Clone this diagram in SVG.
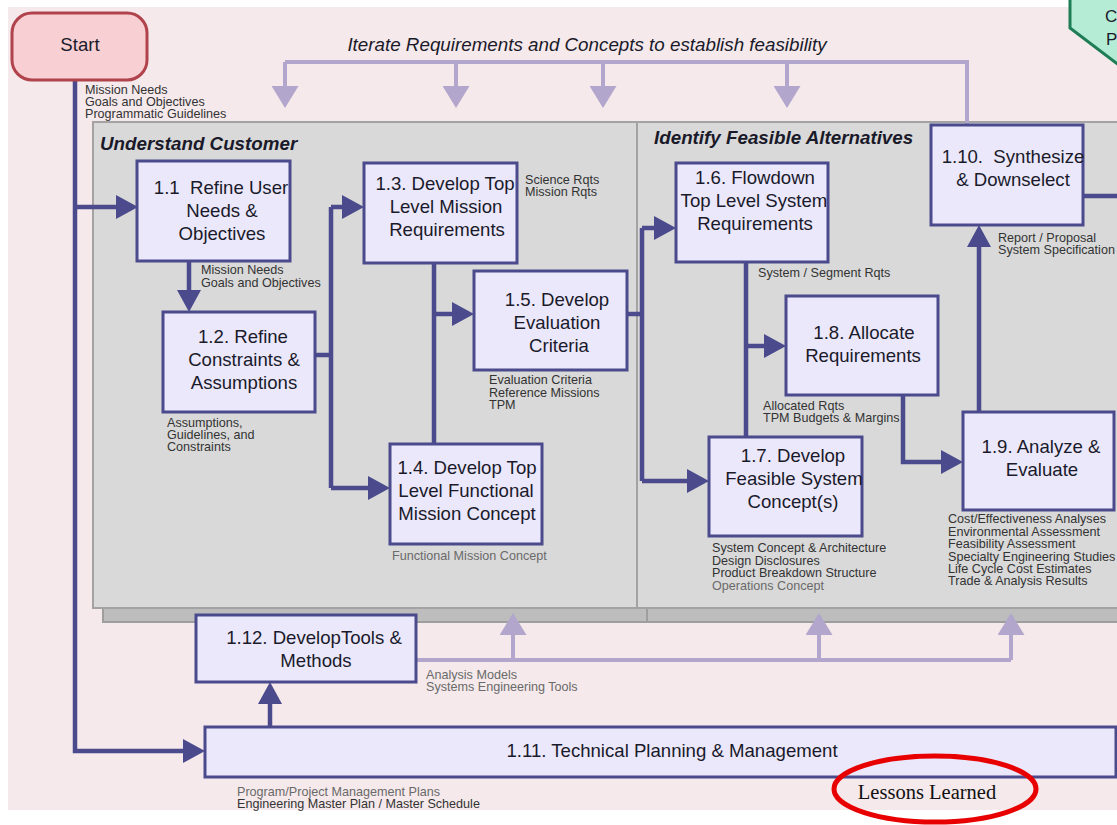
<svg xmlns="http://www.w3.org/2000/svg" width="1117" height="825" viewBox="0 0 1117 825">
<defs>
<style>
text{font-family:"Liberation Sans",Arial,sans-serif;fill:#1a1a2a}
.bx{fill:#ebe8fb;stroke:#4a4a8c;stroke-width:3}
.bt{font-size:18.6px;text-anchor:middle}
.lb{font-size:12.6px;fill:#333}
.lg{font-size:12.6px;fill:#6a6a6a}
.dk{fill:none;stroke:#4a4a8c;stroke-width:4.5}
.dka{fill:none;stroke:#4a4a8c;stroke-width:4.5;marker-end:url(#ad)}
.lt{fill:none;stroke:#b3a6cc;stroke-width:4}
.lta{fill:none;stroke:#b3a6cc;stroke-width:4;marker-end:url(#al)}
.ttl{font-size:18.8px;font-weight:bold;font-style:italic}
.pan{fill:#d9d9d9;stroke:#a3a3a3;stroke-width:2}
.sh{fill:#bdbdbd;stroke:#9e9e9e;stroke-width:2}
</style>
<marker id="ad" viewBox="0 0 22 24" markerWidth="22" markerHeight="24" refX="10" refY="12" orient="auto" markerUnits="userSpaceOnUse"><path d="M0,0 L22,12 L0,24 z" fill="#4a4a8c"/></marker>
<marker id="al" viewBox="0 0 22 27" markerWidth="22" markerHeight="27" refX="10" refY="13.5" orient="auto" markerUnits="userSpaceOnUse"><path d="M0,0 L22,13.5 L0,27 z" fill="#b3a6cc"/></marker>
</defs>
<rect x="0" y="0" width="1117" height="825" fill="#ffffff"/>
<rect x="8" y="7" width="1109" height="803" fill="#f5e9eb"/>

<g id="hexagon">
<polygon points="1070,-5 1070,28 1120,66 1120,-5" fill="#b5ecd5" stroke="#1e7d55" stroke-width="3"/>
<text x="1105" y="22" style="font-size:17px">C</text>
<text x="1106" y="45" style="font-size:17px">P</text>
</g>

<g id="panels">
<rect class="sh" x="103" y="132" width="544" height="490"/>
<rect class="sh" x="647" y="132" width="480" height="490"/>
<rect class="pan" x="93" y="122" width="544" height="486"/>
<rect class="pan" x="637" y="122" width="490" height="486"/>
<text class="ttl" x="100" y="150">Understand Customer</text>
<text class="ttl" x="654" y="144">Identify Feasible Alternatives</text>
</g>

<g id="connectors">
<path class="lt" d="M285,62 H967 V125"/>
<path class="lta" d="M285,62 V96"/>
<path class="lta" d="M456,62 V96"/>
<path class="lta" d="M603,62 V96"/>
<path class="lta" d="M787,62 V96"/>
<path class="lt" d="M416,660 H1011"/>
<path class="lta" d="M513,660 V625"/>
<path class="lta" d="M819,660 V625"/>
<path class="lta" d="M1011,660 V625"/>

<path class="dka" d="M75,80 V751 H193"/>
<path class="dka" d="M75,207 H126"/>
<path class="dka" d="M189,261 V300"/>
<path class="dk" d="M315,355 H331"/>
<path class="dk" d="M331,207 V488"/>
<path class="dka" d="M331,207 H352"/>
<path class="dka" d="M331,488 H378"/>
<path class="dk" d="M434,263 V444"/>
<path class="dka" d="M434,314 H462"/>
<path class="dk" d="M627,314 H642"/>
<path class="dk" d="M642,228 V481"/>
<path class="dka" d="M642,228 H664"/>
<path class="dka" d="M642,481 H697"/>
<path class="dk" d="M746,262 V437"/>
<path class="dka" d="M746,346 H774"/>
<path class="dka" d="M903,395 V462 H951"/>
<path class="dka" d="M979,412 V237"/>
<path class="dk" d="M1083,196 H1117"/>
<path class="dka" d="M270,726 V694"/>
</g>

<g id="start">
<rect x="12" y="13" width="135" height="67" rx="20" fill="#f8cfd3" stroke="#b0434c" stroke-width="3"/>
<text class="bt" x="80" y="51">Start</text>
</g>
<text class="lb" x="85" y="94">Mission Needs</text>
<text class="lb" x="85" y="106">Goals and Objectives</text>
<text class="lb" x="85" y="118">Programmatic Guidelines</text>
<text x="587" y="51" style="font-size:18.8px;font-style:italic;text-anchor:middle">Iterate Requirements and Concepts to establish feasibility</text>

<g id="n1_1">
<rect class="bx" x="137" y="161" width="153" height="100"/>
<text class="bt" x="221" y="194" xml:space="preserve">1.1  Refine User</text>
<text class="bt" x="222" y="217">Needs &amp;</text>
<text class="bt" x="222" y="240">Objectives</text>
</g>
<text class="lb" x="201" y="274">Mission Needs</text>
<text class="lb" x="201" y="287">Goals and Objectives</text>

<g id="n1_2">
<rect class="bx" x="163" y="312" width="152" height="100"/>
<text class="bt" x="243" y="343">1.2. Refine</text>
<text class="bt" x="244" y="366">Constraints &amp;</text>
<text class="bt" x="244" y="389">Assumptions</text>
</g>
<text class="lb" x="167" y="427">Assumptions,</text>
<text class="lb" x="167" y="439">Guidelines, and</text>
<text class="lb" x="167" y="451">Constraints</text>

<g id="n1_3">
<rect class="bx" x="364" y="163" width="153" height="100"/>
<text class="bt" x="445" y="190">1.3. Develop Top</text>
<text class="bt" x="446" y="213">Level Mission</text>
<text class="bt" x="447" y="236">Requirements</text>
</g>
<text class="lb" x="525" y="184">Science Rqts</text>
<text class="lb" x="525" y="196">Mission Rqts</text>

<g id="n1_5">
<rect class="bx" x="474" y="271" width="153" height="99"/>
<text class="bt" x="557" y="306">1.5. Develop</text>
<text class="bt" x="557" y="329">Evaluation</text>
<text class="bt" x="559" y="352">Criteria</text>
</g>
<text class="lb" x="489" y="384">Evaluation Criteria</text>
<text class="lb" x="489" y="397">Reference Missions</text>
<text class="lb" x="489" y="409">TPM</text>

<g id="n1_4">
<rect class="bx" x="390" y="444" width="152" height="100"/>
<text class="bt" x="467" y="474">1.4. Develop Top</text>
<text class="bt" x="466" y="497">Level Functional</text>
<text class="bt" x="467" y="520">Mission Concept</text>
</g>
<text class="lg" x="392" y="560">Functional Mission Concept</text>

<g id="n1_6">
<rect class="bx" x="676" y="163" width="152" height="99"/>
<text class="bt" x="755" y="184">1.6. Flowdown</text>
<text class="bt" x="754" y="207">Top Level System</text>
<text class="bt" x="755" y="230">Requirements</text>
</g>
<text class="lb" x="758" y="277">System / Segment Rqts</text>

<g id="n1_8">
<rect class="bx" x="786" y="296" width="152" height="99"/>
<text class="bt" x="864" y="339">1.8. Allocate</text>
<text class="bt" x="863" y="362">Requirements</text>
</g>
<text class="lb" x="763" y="410">Allocated Rqts</text>
<text class="lb" x="763" y="422">TPM Budgets &amp; Margins</text>

<g id="n1_7">
<rect class="bx" x="709" y="437" width="153" height="99"/>
<text class="bt" x="793" y="462">1.7. Develop</text>
<text class="bt" x="794" y="485">Feasible System</text>
<text class="bt" x="793" y="508">Concept(s)</text>
</g>
<text class="lb" x="712" y="552">System Concept &amp; Architecture</text>
<text class="lb" x="712" y="565">Design Disclosures</text>
<text class="lb" x="712" y="577">Product Breakdown Structure</text>
<text class="lg" x="712" y="590">Operations Concept</text>

<g id="n1_10">
<rect class="bx" x="931" y="125" width="152" height="100"/>
<text class="bt" x="1013" y="163" xml:space="preserve">1.10.  Synthesize</text>
<text class="bt" x="1013" y="186">&amp; Downselect</text>
</g>
<text class="lb" x="998" y="242">Report / Proposal</text>
<text class="lb" x="998" y="254">System Specification</text>

<g id="n1_9">
<rect class="bx" x="963" y="412" width="151" height="98"/>
<text class="bt" x="1041" y="453">1.9. Analyze &amp;</text>
<text class="bt" x="1042" y="476">Evaluate</text>
</g>
<text class="lb" x="948" y="523">Cost/Effectiveness Analyses</text>
<text class="lb" x="948" y="536">Environmental Assessment</text>
<text class="lb" x="948" y="548">Feasibility Assessment</text>
<text class="lb" x="948" y="561">Specialty Engineering Studies</text>
<text class="lb" x="948" y="573">Life Cycle Cost Estimates</text>
<text class="lb" x="948" y="585">Trade &amp; Analysis Results</text>

<g id="n1_12">
<rect class="bx" x="196" y="615" width="220" height="67"/>
<text class="bt" x="314" y="644">1.12. DevelopTools &amp;</text>
<text class="bt" x="316" y="667">Methods</text>
</g>
<text class="lg" x="426" y="679">Analysis Models</text>
<text class="lg" x="426" y="691">Systems Engineering Tools</text>

<g id="n1_11">
<rect class="bx" x="205" y="727" width="911" height="50"/>
<text class="bt" x="672" y="757">1.11. Technical Planning &amp; Management</text>
</g>
<text class="lg" x="237" y="796">Program/Project Management Plans</text>
<text class="lb" x="237" y="808">Engineering Master Plan / Master Schedule</text>

<g id="lessons">
<text x="927" y="799" style="font-family:'Liberation Serif','Times New Roman',serif;font-size:20.5px;text-anchor:middle;fill:#111">Lessons Learned</text>
<ellipse cx="935" cy="789" rx="101" ry="33" fill="none" stroke="#e80000" stroke-width="5"/>
</g>
</svg>
